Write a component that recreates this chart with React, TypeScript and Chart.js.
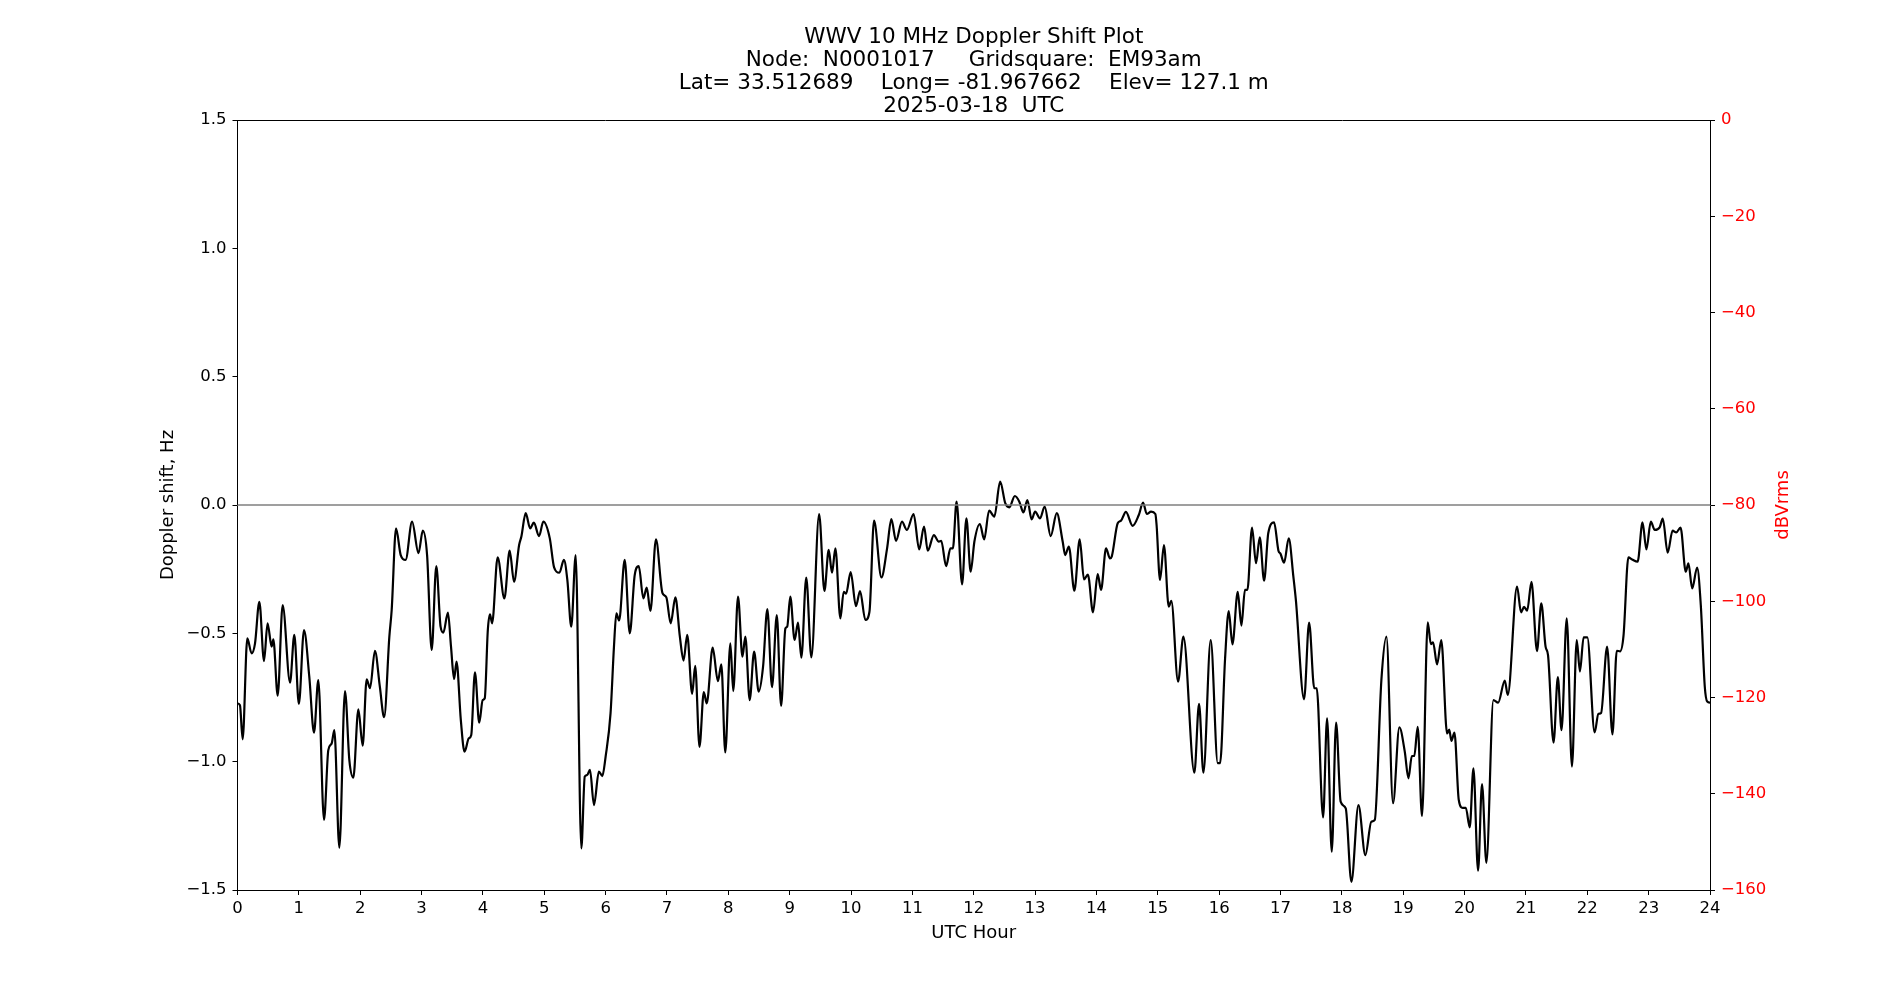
import React, { useEffect, useRef } from 'react';
import { Chart, registerables } from 'chart.js';

Chart.register(...registerables);

// UTC hour of each sample and the Doppler shift (Hz)
const hours = [
  0.0, 0.04, 0.084, 0.16, 0.23, 0.285, 0.356, 0.432, 0.49, 0.557, 0.584, 0.655, 0.736, 0.856, 0.926,
  1.0, 1.084, 1.17, 1.247, 1.317, 1.41, 1.48, 1.535, 1.578, 1.66, 1.752, 1.823, 1.888, 1.97,
  2.04, 2.105, 2.16, 2.24, 2.32, 2.39, 2.475, 2.513, 2.584, 2.66, 2.74, 2.845, 2.95,
  3.02, 3.09, 3.165, 3.24, 3.31, 3.355, 3.43, 3.48, 3.53, 3.57, 3.64, 3.7, 3.77, 3.81, 3.87, 3.94, 3.996,
  4.03, 4.08, 4.115, 4.15, 4.24, 4.35, 4.436, 4.507, 4.59, 4.627, 4.697, 4.77, 4.83, 4.915, 4.985,
  5.09, 5.16, 5.246, 5.32, 5.376, 5.44, 5.512, 5.604, 5.66, 5.7, 5.745, 5.81, 5.89, 5.946,
  6.0, 6.08, 6.136, 6.175, 6.22, 6.311, 6.393, 6.474, 6.54, 6.615, 6.67, 6.73, 6.82, 6.925, 6.99,
  7.06, 7.137, 7.21, 7.27, 7.33, 7.41, 7.46, 7.53, 7.6, 7.648, 7.745, 7.83, 7.886, 7.95,
  8.033, 8.08, 8.158, 8.23, 8.277, 8.348, 8.42, 8.495, 8.566, 8.636, 8.712, 8.79, 8.86, 8.93, 8.96,
  9.01, 9.08, 9.136, 9.19, 9.27, 9.353, 9.48, 9.566, 9.636, 9.69, 9.745, 9.826, 9.88, 9.92, 9.994,
  10.08, 10.147, 10.233, 10.3, 10.375, 10.495, 10.587, 10.657, 10.733, 10.83, 10.91,
  11.02, 11.11, 11.19, 11.25, 11.35, 11.43, 11.47, 11.55, 11.62, 11.66, 11.72, 11.81, 11.88, 11.95,
  12.01, 12.1, 12.17, 12.25, 12.336, 12.43, 12.515, 12.58, 12.67, 12.743, 12.81, 12.874, 12.944,
  13.0, 13.08, 13.156, 13.254, 13.353, 13.45, 13.49, 13.55, 13.64, 13.727, 13.797, 13.86, 13.944,
  14.02, 14.075, 14.156, 14.22, 14.25, 14.346, 14.4, 14.48, 14.59, 14.69, 14.76, 14.82, 14.89, 14.96, 14.98,
  15.036, 15.1, 15.178, 15.22, 15.33, 15.417, 15.596, 15.672, 15.743, 15.862, 15.977,
  16.015, 16.096, 16.156, 16.216, 16.303, 16.363, 16.42, 16.46, 16.536, 16.6, 16.662, 16.732, 16.8, 16.895, 16.966,
  17.0, 17.058, 17.134, 17.21, 17.25, 17.384, 17.466, 17.55, 17.59, 17.694, 17.759, 17.835, 17.906, 17.98,
  18.063, 18.155, 18.27, 18.383, 18.48, 18.536, 18.644, 18.726, 18.834, 18.937,
  19.025, 19.085, 19.14, 19.18, 19.236, 19.306, 19.4, 19.45, 19.486, 19.552, 19.62, 19.715, 19.75, 19.785, 19.835, 19.905, 19.97,
  20.02, 20.084, 20.144, 20.22, 20.284, 20.355, 20.47, 20.547, 20.655, 20.704, 20.855, 20.92, 20.97,
  21.02, 21.09, 21.18, 21.25, 21.32, 21.36, 21.45, 21.52, 21.58, 21.665, 21.75, 21.828, 21.88, 21.94,
  22.0, 22.12, 22.18, 22.225, 22.323, 22.41, 22.48, 22.535, 22.59, 22.67, 22.73, 22.82, 22.9, 22.963,
  23.035, 23.1, 23.18, 23.23, 23.31, 23.39, 23.45, 23.52, 23.605, 23.648, 23.71, 23.79, 23.85, 23.915, 23.955,
  24.0,
];

const dopplerHz = [
  -0.773, -0.78, -0.913, -0.52, -0.578, -0.54, -0.377, -0.608, -0.461, -0.552, -0.523, -0.743, -0.39, -0.692, -0.506,
  -0.775, -0.487, -0.669, -0.887, -0.682, -1.227, -0.955, -0.929, -0.877, -1.335, -0.725, -0.994, -1.062, -0.796,
  -0.938, -0.679, -0.714, -0.568, -0.708, -0.827, -0.513, -0.409, -0.091, -0.195, -0.214, -0.065, -0.188,
  -0.1, -0.195, -0.565, -0.238, -0.474, -0.497, -0.419, -0.552, -0.678, -0.61, -0.838, -0.961, -0.909, -0.896, -0.652, -0.848, -0.76,
  -0.753, -0.487, -0.426, -0.461, -0.204, -0.364, -0.178, -0.299, -0.156, -0.123, -0.032, -0.091, -0.069, -0.121, -0.065,
  -0.13, -0.243, -0.264, -0.214, -0.292, -0.474, -0.195, -1.338, -1.058, -1.052, -1.032, -1.169, -1.039, -1.056,
  -0.98, -0.812, -0.552, -0.422, -0.45, -0.214, -0.5, -0.273, -0.238, -0.364, -0.322, -0.413, -0.134, -0.342, -0.36,
  -0.461, -0.36, -0.513, -0.606, -0.506, -0.736, -0.627, -0.942, -0.729, -0.773, -0.556, -0.686, -0.621, -0.964,
  -0.539, -0.725, -0.357, -0.591, -0.513, -0.76, -0.571, -0.727, -0.63, -0.406, -0.71, -0.429, -0.783, -0.481, -0.474,
  -0.357, -0.526, -0.458, -0.595, -0.283, -0.594, -0.035, -0.335, -0.175, -0.264, -0.169, -0.442, -0.338, -0.345, -0.261,
  -0.394, -0.335, -0.448, -0.416, -0.061, -0.282, -0.17, -0.055, -0.14, -0.065, -0.097,
  -0.035, -0.173, -0.084, -0.178, -0.117, -0.143, -0.14, -0.238, -0.169, -0.169, 0.013, -0.309, -0.052, -0.26,
  -0.143, -0.074, -0.134, -0.022, -0.045, 0.091, 0.006, -0.009, 0.035, 0.013, -0.029, 0.019, -0.056,
  -0.026, -0.052, -0.006, -0.121, -0.032, -0.143, -0.195, -0.162, -0.334, -0.134, -0.29, -0.271, -0.418,
  -0.269, -0.331, -0.169, -0.208, -0.2, -0.071, -0.061, -0.027, -0.081, -0.039, 0.009, -0.035, -0.026, -0.035, -0.078,
  -0.292, -0.156, -0.396, -0.373, -0.688, -0.513, -1.043, -0.775, -1.043, -0.526, -1.006,
  -1.006, -0.6, -0.413, -0.543, -0.338, -0.47, -0.331, -0.331, -0.088, -0.227, -0.126, -0.295, -0.11, -0.068, -0.178,
  -0.19, -0.225, -0.13, -0.28, -0.37, -0.757, -0.458, -0.714, -0.714, -1.217, -0.831, -1.351, -0.848, -1.156,
  -1.182, -1.468, -1.169, -1.364, -1.234, -1.227, -0.682, -0.513, -1.162, -0.866,
  -0.961, -1.065, -0.978, -0.978, -0.864, -1.212, -0.457, -0.542, -0.535, -0.621, -0.526, -0.89, -0.875, -0.919, -0.887, -1.149, -1.18,
  -1.18, -1.256, -1.026, -1.425, -1.087, -1.394, -0.76, -0.77, -0.684, -0.74, -0.318, -0.418, -0.397,
  -0.412, -0.299, -0.569, -0.383, -0.552, -0.585, -0.926, -0.671, -0.877, -0.442, -1.019, -0.526, -0.649, -0.516,
  -0.516, -0.886, -0.814, -0.81, -0.552, -0.894, -0.568, -0.57, -0.51, -0.204, -0.212, -0.221, -0.068, -0.173,
  -0.065, -0.097, -0.087, -0.053, -0.186, -0.1, -0.107, -0.088, -0.26, -0.227, -0.325, -0.244, -0.39, -0.708, -0.766,
  -0.77,
];

// Reference (zero-shift) line end points
const zeroLineHours = [0, 24];
const zeroLineHz = [0, 0];

// Axis ticks
const xTickHours = [0, 1, 2, 3, 4, 5, 6, 7, 8, 9, 10, 11, 12, 13, 14, 15, 16, 17, 18, 19, 20, 21, 22, 23, 24];
const leftTicksHz = [-1.5, -1.0, -0.5, 0.0, 0.5, 1.0, 1.5];
const rightTicksDb = [-160, -140, -120, -100, -80, -60, -40, -20, 0];

const titleLines = [
  'WWV 10 MHz Doppler Shift Plot',
  'Node:  N0001017     Gridsquare:  EM93am',
  'Lat= 33.512689    Long= -81.967662    Elev= 127.1 m',
  '2025-03-18  UTC',
];
const xLabel = 'UTC Hour';
const leftLabel = 'Doppler shift, Hz';
const rightLabel = 'dBVrms';

const FONT = 'DejaVu Sans';
const TICK_SIZE = 16.5;
const LABEL_SIZE = 18;
const TITLE_SIZE = 21.5;

const PAD_LEFT = 157.2;
const PAD_RIGHT = 107;
const PAD_BOTTOM = 56.2;
const PLOT_LEFT = 237.5;
const PLOT_RIGHT = 1710;
const PLOT_BOTTOM = 890;

const fmtMinus = (s: string) => s.replace('-', '\u2212');

export default function App() {
  const canvasRef = useRef<HTMLCanvasElement | null>(null);

  useEffect(() => {
    const canvas = canvasRef.current;
    if (!canvas) return;

    const rightLabelPlugin = {
      id: 'rightLabel',
      afterDraw(chart: any) {
        const { ctx, chartArea } = chart;
        ctx.save();
        ctx.font = `${LABEL_SIZE}px "${FONT}"`;
        ctx.fillStyle = '#ff0000';
        ctx.textAlign = 'center';
        ctx.textBaseline = 'middle';
        ctx.translate(1783, (chartArea.top + chartArea.bottom) / 2);
        ctx.rotate(-Math.PI / 2);
        ctx.fillText(rightLabel, 0, 0);
        ctx.restore();
      },
    };

    const chart = new Chart(canvas, {
      type: 'line',
      data: {
        datasets: [
          {
            label: 'zero',
            data: zeroLineHours.map((h, i) => ({ x: h, y: zeroLineHz[i] })),
            borderColor: '#7f7f7f',
            borderWidth: 1.3,
            pointRadius: 0,
            xAxisID: 'x',
            yAxisID: 'y',
          },
          {
            label: 'Doppler shift',
            data: hours.map((h, i) => ({ x: h, y: dopplerHz[i] })),
            borderColor: '#000000',
            borderWidth: 2.2,
            pointRadius: 0,
            cubicInterpolationMode: 'monotone',
            xAxisID: 'x',
            yAxisID: 'y',
          },
        ],
      },
      options: {
        responsive: false,
        animation: false,
        events: [],
        layout: { padding: { left: PAD_LEFT, right: PAD_RIGHT, top: 0, bottom: PAD_BOTTOM } },
        plugins: {
          legend: { display: false },
          tooltip: { enabled: false },
          title: {
            display: true,
            text: titleLines,
            fullSize: false,
            color: '#000000',
            font: { family: FONT, size: TITLE_SIZE, weight: 'normal', lineHeight: '23px' },
            padding: { top: 26, bottom: 2 },
          },
        },
        scales: {
          x: {
            type: 'linear',
            position: 'bottom',
            min: 0,
            max: 24,
            afterFit: (s: any) => { s.height = 1000 - PAD_BOTTOM - PLOT_BOTTOM; },
            afterBuildTicks: (s: any) => { s.ticks = xTickHours.map((v) => ({ value: v })); },
            ticks: {
              color: '#000000',
              font: { family: FONT, size: TICK_SIZE },
              padding: 3.5,
              maxRotation: 0,
              autoSkip: false,
              callback: (v: any) => String(v),
            },
            grid: { drawOnChartArea: false, drawTicks: true, tickLength: 5, color: '#000000' },
            border: { display: true, color: '#000000', width: 1 },
            title: { display: true, text: xLabel, color: '#000000', font: { family: FONT, size: LABEL_SIZE }, padding: 0 },
          },
          xTop: {
            type: 'linear',
            position: 'top',
            display: true,
            min: 0,
            max: 24,
            afterFit: (s: any) => { s.height = 0; },
            ticks: { display: false },
            grid: { display: false, drawTicks: false },
            border: { display: true, color: '#000000', width: 1 },
          },
          y: {
            type: 'linear',
            position: 'left',
            min: -1.5,
            max: 1.5,
            afterFit: (s: any) => { s.width = PLOT_LEFT - PAD_LEFT; },
            afterBuildTicks: (s: any) => { s.ticks = leftTicksHz.map((v) => ({ value: v })); },
            ticks: {
              color: '#000000',
              font: { family: FONT, size: TICK_SIZE },
              padding: 6,
              autoSkip: false,
              callback: (v: any) => fmtMinus(Number(v).toFixed(1)),
            },
            grid: { drawOnChartArea: false, drawTicks: true, tickLength: 5, color: '#000000' },
            border: { display: true, color: '#000000', width: 1 },
            title: { display: true, text: leftLabel, color: '#000000', font: { family: FONT, size: LABEL_SIZE }, padding: 0 },
          },
          y2: {
            type: 'linear',
            position: 'right',
            display: true,
            min: -160,
            max: 0,
            afterFit: (s: any) => { s.width = 1900 - PAD_RIGHT - PLOT_RIGHT; },
            afterBuildTicks: (s: any) => { s.ticks = rightTicksDb.map((v) => ({ value: v })); },
            ticks: {
              color: '#ff0000',
              font: { family: FONT, size: TICK_SIZE },
              padding: 6,
              autoSkip: false,
              callback: (v: any) => fmtMinus(String(v)),
            },
            grid: { drawOnChartArea: false, drawTicks: true, tickLength: 5, color: '#000000' },
            border: { display: true, color: '#000000', width: 1 },
          },
        },
      },
      plugins: [rightLabelPlugin],
    } as any);

    return () => chart.destroy();
  }, []);

  return (
    <div style={{ position: 'fixed', left: 0, top: 0, width: 1900, height: 1000, background: '#ffffff' }}>
      <canvas ref={canvasRef} width={1900} height={1000} style={{ display: 'block', width: 1900, height: 1000 }} />
    </div>
  );
}
